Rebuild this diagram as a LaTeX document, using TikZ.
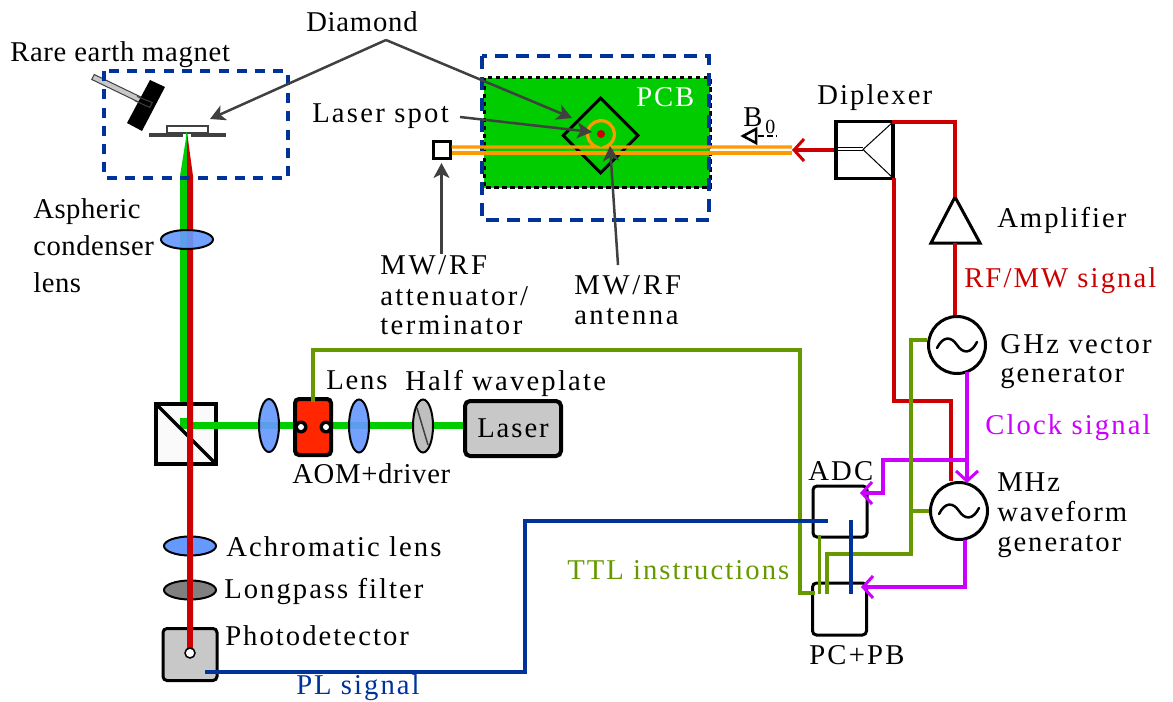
\documentclass[tikz,border=0pt]{standalone}
\usepackage{fontspec}
\setmainfont{Liberation Serif}
\usetikzlibrary{arrows.meta,shapes.geometric,calc}
\definecolor{cblue}{HTML}{003399}
\definecolor{cred}{HTML}{CC0000}
\definecolor{cmag}{HTML}{CC00FF}
\definecolor{cgrn}{HTML}{669900}
\definecolor{cbeam}{HTML}{00CC00}
\definecolor{clens}{HTML}{6699FF}
\definecolor{corg}{HTML}{FF9900}
\definecolor{cgray}{HTML}{404040}
\definecolor{cbox}{HTML}{C8C8C8}
\def\pxu{0.75pt}
\tikzset{
  lbl/.style={anchor=base west,inner sep=0,yshift=-1.1pt,font=\pgfmathsetmacro\lblsp{#1*0.977-1}\fontsize{21.5}{24}\selectfont\addfontfeature{LetterSpace=\lblsp}},
  lbl/.default=8.3,
  lensv/.style={ellipse,draw=black,line width=2*\pxu,fill=clens,fill opacity=.92,draw opacity=1,minimum width=20*\pxu,minimum height=53*\pxu,inner sep=0},
  lensh/.style={ellipse,draw=black,line width=2*\pxu,fill=clens,fill opacity=.92,draw opacity=1,minimum width=52*\pxu,minimum height=19*\pxu,inner sep=0},
  blackbox/.style={draw=black,rectangle,rounded corners=4*\pxu,inner sep=0},
  gen/.style={circle,draw=black,line width=3*\pxu,fill=white,minimum size=57*\pxu,inner sep=0},
  ptr/.style={draw=cgray,line width=2.5*\pxu,-{Stealth[length=15*\pxu,width=16*\pxu,inset=4*\pxu]}},
  redw/.style={draw=cred,line width=3.2*\pxu},
  magw/.style={draw=cmag,line width=3.2*\pxu},
  grnw/.style={draw=cgrn,line width=3.2*\pxu},
  bluw/.style={draw=cblue,line width=3.2*\pxu},
  barb/.style={-{Straight Barb[length=10*\pxu,width=22*\pxu,line width=3*\pxu]}},
  orgw/.style={draw=corg,line width=3.2*\pxu},
}
\newcommand{\sinewave}[1]{%
  \draw[black,line width=2.5*\pxu,line cap=round] ([shift={(-20,3)}]#1.center) .. controls ([shift={(-14,-9)}]#1.center) and ([shift={(-6,-9)}]#1.center) .. ([shift={(0,0)}]#1.center) .. controls ([shift={(6,9)}]#1.center) and ([shift={(14,9)}]#1.center) .. ([shift={(20,-3)}]#1.center);}
\begin{document}
\begin{tikzpicture}[x=0.75pt,y=-0.75pt]
\useasboundingbox (0,0) rectangle (1173,702);
% beams
\fill[cbeam] (180,427) -- (180,176) -- (187,132) -- (187,427) -- cycle;
\node[rectangle,draw=black,line width=4*\pxu,fill=white!98!black,minimum size=60*\pxu,inner sep=0] (cube) at (186,434) {};
\coordinate (bsL) at (182,425);
\node[rectangle,draw=black,line width=4*\pxu,rounded corners=5*\pxu,fill=cbox,minimum width=96*\pxu,minimum height=55*\pxu,inner sep=0] (laser) at (513,428.5) {};
\draw[cbeam,line width=7*\pxu] (bsL) -- (laser.west |- bsL);
\fill[cbeam] (180,418) rectangle (187,427);
\draw[black,line width=3.5*\pxu] (cube.north west) ++(3,3) -- ($(cube.south east)+(-2,-2)$);
\fill[cred] (187,653) -- (187,132) -- (193,176) -- (193,653) -- cycle;
% magnet box
\draw[cgray,fill=cbox,line width=1*\pxu] (94.2,74.5) -- (152.2,102.5) -- (149.8,107.5) -- (91.8,79.5) -- cycle;
\fill[black] (150,80) -- (165,87) -- (142,131) -- (127,123) -- cycle;
\draw[cgray,line width=1*\pxu] (137,96.5) -- (152.2,102.5) -- (149.8,107.5) -- (134.5,100.5);
\node[rectangle,draw=cgray,line width=1.5*\pxu,fill=white,minimum width=41*\pxu,minimum height=7*\pxu,inner sep=0] (sample) at (187.5,129.5) {};
\fill[cgray] (149,133) rectangle (183,137.5);
\fill[cgray] (191,133) rectangle (226,137.5);
\fill[cbeam] (186.5,132) -- (187,132) -- (187,137.5) -- (185.7,137.5) -- cycle;
\draw[cblue,line width=4*\pxu,dash pattern=on 10*\pxu off 8.3*\pxu] (104,71) rectangle (288,178);
% lenses on vertical path
\node[lensh] (asph) at (187,239.5) {};
\node[lensh,fill opacity=1] (achr) at (190,546) {};
\node[lensh,fill=gray,fill opacity=1] (lpf) at (190,590) {};
\draw[cred,line width=6*\pxu] (190,530) -- (190,610);
% photodetector
\node[blackbox,line width=3*\pxu,fill=cbox,minimum width=54*\pxu,minimum height=52*\pxu] (pd) at (190,654.5) {};
\draw[cred,line width=6*\pxu] (190,625) -- (190,650);
\node[circle,draw=black,line width=1.5*\pxu,fill=white,minimum size=10*\pxu,inner sep=0] (pdhole) at (190,653) {};
% horizontal optics
\node[lensv] (l1) at (269,425.5) {};
\node[blackbox,line width=4*\pxu,fill=red!85!yellow,minimum width=36*\pxu,minimum height=56*\pxu] (aom) at (313,427) {};
\node[circle,fill=black,minimum size=13*\pxu,inner sep=0] (aomL) at (301,427) {};
\node[circle,fill=black,minimum size=13*\pxu,inner sep=0] (aomR) at (326,427) {};
\node[circle,fill=white,minimum size=6*\pxu,inner sep=0] (aomLh) at (301,427) {};
\node[circle,fill=white,minimum size=6*\pxu,inner sep=0] (aomRh) at (326,427) {};
\node[lensv] (l2) at (359,426) {};
\node[lensv,fill=gray!50,fill opacity=1] (hwp) at (423,426) {};
\draw[cgray,line width=1.5*\pxu] (417,408) -- (428,445);
% PCB
\draw[black,fill=cbeam,line width=3*\pxu,dash pattern=on 4.5*\pxu off 3.5*\pxu] (484,78) rectangle (710,188);
\draw[cblue,line width=4.5*\pxu,dash pattern=on 13*\pxu off 8*\pxu] (482,56) rectangle (709,220);
\node[diamond,draw=black,line width=3*\pxu,minimum width=76*\pxu,minimum height=76*\pxu,inner sep=0] (dia) at (600.5,135.5) {};
\node[rectangle,draw=black,line width=3*\pxu,fill=white,minimum size=17*\pxu,inner sep=0] (term) at (441.5,150) {};
\coordinate (feed) at (792,150);
\draw[orgw] (term.east |- 0,153) -- (feed |- 0,153);
\draw[orgw] (term.east |- 0,147) -- (597,147) arc[start angle=253,end angle=-73,radius=10.1pt] -- (feed |- 0,147);
\node[circle,fill=cred,minimum size=8*\pxu,inner sep=0] (spot) at (601,134) {};
% diplexer
\node[rectangle,draw=black,line width=3.5*\pxu,fill=white,minimum size=57*\pxu,inner sep=0] (dip) at (864.5,150) {};
\draw[black,line width=1*\pxu] (dip.west |- 0,148) -- (863,148) (dip.west |- 0,151) -- (863,151);
\coordinate (dipNE) at (893,122);
\coordinate (dipSE) at (893,178);
\draw[black,line width=1*\pxu] (dipNE) -- (863,149.5) -- (dipSE);
\draw[redw,barb] (dip.west) -- (feed);
\coordinate (b0t) at (743,136);
\coordinate (b0a) at (756,129);
\coordinate (b0b) at (756,143);
\coordinate (b0c) at (758,136);
\coordinate (b0d) at (777,136);
\draw[black,line width=2.5*\pxu] (b0t) -- (b0a) -- (b0b) -- cycle;
\draw[black,line width=2.5*\pxu,dash pattern=on 6*\pxu off 3*\pxu] (b0c) -- (b0d);
% amplifier
\coordinate (ampT) at (955,197);
\coordinate (ampB) at (955,243);
\draw[black,line width=3*\pxu,fill=white] (ampT) -- (980,243) -- (931,243) -- cycle;
% generators
\node[gen] (g1) at (957,345) {};
\node[gen] (g2) at (959,511) {};
\sinewave{g1}
\sinewave{g2}
% boxes
\node[blackbox,line width=3*\pxu,fill=white,minimum width=54*\pxu,minimum height=51*\pxu] (adc) at (840,511.5) {};
\node[blackbox,line width=3*\pxu,fill=white,minimum width=54*\pxu,minimum height=52*\pxu] (pc) at (839.5,609) {};
% red wires
\coordinate (r0) at (892,122);
\coordinate (r1) at (955,122);
\coordinate (r0b) at (894,178);
\coordinate (r2) at (894,401);
\coordinate (r3) at (951,401);
\draw[redw] (r0) -- (r1) -- (ampT);
\draw[redw] (ampB) -- (ampB |- g1.north);
\draw[redw] (r0b) -- (r2) -- (r3) -- (r3 |- g2.north);
% magenta wires
\coordinate (m1) at (967,372);
\coordinate (m1b) at (967,483);
\coordinate (m2) at (967,460);
\coordinate (m3) at (883,460);
\coordinate (m4) at (883,493);
\coordinate (m5) at (860,493);
\coordinate (m6) at (965,540);
\coordinate (m7) at (965,587);
\coordinate (m8) at (861,587);
\draw[magw,barb] (m1) -- (m1b);
\draw[magw,barb] (m2) -- (m3) -- (m4) -- (m5);
\draw[magw,barb] (m6) -- (m7) -- (m8);
% green wires
\coordinate (a1) at (313,350);
\coordinate (a2) at (800,350);
\coordinate (a3) at (800,593);
\coordinate (a4) at (815,593);
\draw[grnw] (aom.center |- 0,402) -- (a1) -- (a2) -- (a3) -- (a4);
\coordinate (c1) at (819.5,535);
\coordinate (c2) at (819.5,594);
\draw[grnw] (c1) -- (c2);
\coordinate (d1) at (827,594);
\coordinate (d2) at (827,554);
\coordinate (d3) at (911,554);
\coordinate (d4) at (911,340);
\draw[grnw] (d1) -- (d2) -- (d3) -- (d4) -- (d4 -| g1.west);
\coordinate (d5) at (911,511);
\draw[grnw] (d5) -- (g2.west);
% blue wires
\coordinate (b0) at (205,672);
\coordinate (b1) at (525,672);
\coordinate (b2) at (525,521);
\coordinate (b3) at (828,521);
\draw[bluw] (b0) -- (b1) -- (b2) -- (b3);
\coordinate (e1) at (851,520);
\coordinate (e2) at (851,594);
\draw[bluw] (e1) -- (e2);
% pointers
\coordinate (dApex) at (386,40);
\coordinate (dTipL) at (210,119);
\coordinate (dTipR) at (572,118);
\draw[ptr] (dApex) -- (dTipL);
\draw[ptr] (dApex) -- (dTipR);
\coordinate (lsS) at (460,117);
\coordinate (lsT) at (592,132);
\draw[ptr] (lsS) -- (lsT);
\coordinate (anS) at (618,265);
\coordinate (anT) at (610,146);
\draw[ptr] (anS) -- (anT);
\coordinate (tmS) at (441.5,254);
\draw[ptr] (tmS) -- ($(term.south)+(0,3)$);
% labels
\node[lbl=3.5] (t1) at (10,60) {Rare earth magnet};
\node[lbl=3.8] (t2) at (306,30) {Diamond};
\node[lbl=9] (t3) at (312,121) {Laser spot};
\node[lbl=8,text=white] (t4) at (636,105) {PCB};
\node[lbl] (t5) at (743,125) {B};
\node[lbl,font=\fontsize{15}{18}\selectfont] (t5b) at (765,132) {0};
\node[lbl=8.5] (t6) at (817,103) {Diplexer};
\node[lbl=8.2] (t7) at (997,226) {Amplifier};
\node[lbl=8.5,text=cred] (t8) at (964,286) {RF/MW signal};
\node[lbl=9.3] (t9) at (1000,352) {GHz vector};
\node[lbl=8] (t10) at (1000,381) {generator};
\node[lbl=8.6,text=cmag] (t11) at (985,433) {Clock signal};
\node[lbl=8] (t12) at (997,490) {MHz};
\node[lbl=8] (t13) at (997,520) {waveform};
\node[lbl=8] (t14) at (997,550) {generator};
\node[lbl=9] (t15) at (808,479) {ADC};
\node[lbl=8.3,text=cgrn] (t16) at (567,578) {TTL instructions};
\node[lbl=9] (t17) at (809,663) {PC+PB};
\node[lbl=8.3,text=cblue] (t18) at (296,693) {PL signal};
\node[lbl=8.3] (t19) at (225,644) {Photodetector};
\node[lbl=8.3] (t20) at (224,597) {Longpass filter};
\node[lbl=8.3] (t21) at (226,555) {Achromatic lens};
\node[lbl=3.6] (t22) at (292,482) {AOM+driver};
\node[lbl=7.5] (t23) at (326,388) {Lens};
\node[lbl=8.9] (t24) at (405,389) {Half waveplate};
\node[lbl=8] (t25) at (477,436) {Laser};
\node[lbl=3] (t26) at (33,217) {Aspheric};
\node[lbl=3] (t27) at (33,254) {condenser};
\node[lbl=3] (t28) at (33,291) {lens};
\node[lbl=11] (t29) at (380,273) {MW/RF};
\node[lbl=10] (t30) at (380,304) {attenuator/};
\node[lbl=10] (t31) at (380,333) {terminator};
\node[lbl=11] (t32) at (574,293) {MW/RF};
\node[lbl=10] (t33) at (574,323) {antenna};
\end{tikzpicture}
\end{document}
